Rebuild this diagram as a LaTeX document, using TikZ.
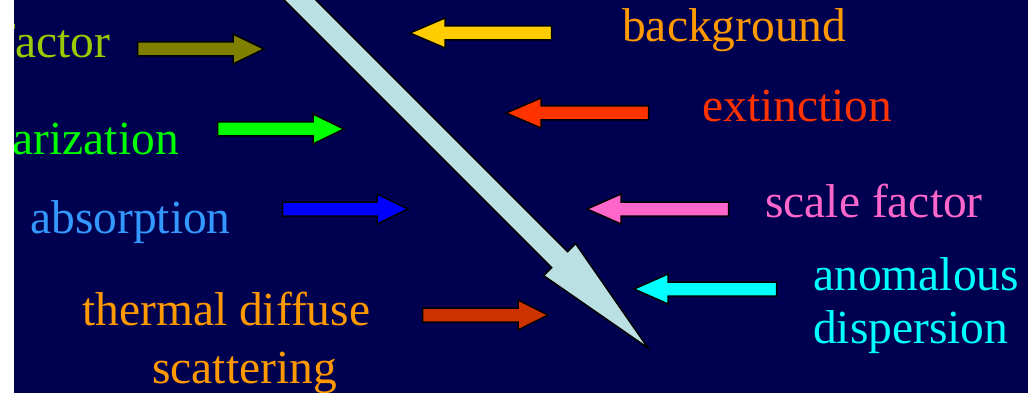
\documentclass[tikz,border=0pt]{standalone}
\usepackage{fontspec}
\setmainfont{Liberation Serif}
\definecolor{slnavy}{RGB}{0,0,80}
\definecolor{slbeam}{RGB}{187,224,227}
\definecolor{sllime}{RGB}{153,204,0}
\definecolor{slolive}{RGB}{128,128,0}
\definecolor{slgreen}{RGB}{0,255,0}
\definecolor{slsky}{RGB}{51,153,255}
\definecolor{slblue}{RGB}{0,0,255}
\definecolor{slorange}{RGB}{255,153,0}
\definecolor{slrust}{RGB}{204,51,0}
\definecolor{slyellow}{RGB}{255,204,0}
\definecolor{slred}{RGB}{255,51,0}
\definecolor{slpink}{RGB}{255,102,204}
\definecolor{slcyan}{RGB}{0,255,255}

\begin{document}
\begin{tikzpicture}[x=1pt, y=-1pt,
  blk/.style={draw=black, line width=1.5pt},
  lbl/.style={anchor=base west, inner sep=0pt, align=left,
              font=\fontsize{47.5}{53}\selectfont}
]
\useasboundingbox (0,0) rectangle (1028,393);
\fill[white] (0,0) rectangle (14,393);

\begin{scope}
\clip (14,0) rectangle (1028,393);
\fill[slnavy] (14,0) rectangle (1028,393);

% Main beam
\draw[blk, fill=slbeam] (278,-38) -- (567.6,251.6) -- (575.6,243.6) -- (648,348)
  -- (543.6,275.6) -- (551.6,267.6) -- (262,-22) -- cycle;

% Labels
\node[lbl, text=sllime]   (factor)  at (-1,58)    {factor};
\node[lbl, text=slgreen]  (polar)   at (12.5,154) {arization};
\node[lbl, text=slsky]    (absorb)  at (30,233)   {absorption};
\node[lbl, text=slorange] (thermal) at (82,325)   {thermal diffuse};
\node[lbl, text=slorange] (scatter) at (152,383)  {scattering};
\node[lbl, text=slorange] (backgr)  at (622,42)   {background};
\node[lbl, text=slred]    (extinct) at (702,122)  {extinction};
\node[lbl, text=slpink]   (scale)   at (765,217)  {scale factor};
\node[lbl, text=slcyan]   (anomal)  at (813,343)  {anomalous\\dispersion};

% Arrows from the left
\draw[blk, fill=slolive] (137.5,42) -- (233,42) -- (233,34) -- (264,49)
  -- (233,64) -- (233,56) -- (137.5,56) -- cycle;
\draw[blk, fill=slgreen] (217.5,122) -- (313,122) -- (313,114) -- (344,129)
  -- (313,144) -- (313,136) -- (217.5,136) -- cycle;
\draw[blk, fill=slblue] (282.5,202) -- (377,202) -- (377,194) -- (408,209)
  -- (377,224) -- (377,216) -- (282.5,216) -- cycle;
\draw[blk, fill=slrust] (422.5,308) -- (518,308) -- (518,300) -- (548,315)
  -- (518,330) -- (518,322) -- (422.5,322) -- cycle;

% Arrows from the right
\draw[blk, fill=slyellow] (551.5,26) -- (445,26) -- (445,18) -- (410,33)
  -- (445,48) -- (445,40) -- (551.5,40) -- cycle;
\draw[blk, fill=slred] (648.5,106) -- (541,106) -- (541,98) -- (506,113)
  -- (541,128) -- (541,120) -- (648.5,120) -- cycle;
\draw[blk, fill=slpink] (728.5,202) -- (621,202) -- (621,194) -- (587,209)
  -- (621,224) -- (621,216) -- (728.5,216) -- cycle;
\draw[blk, fill=slcyan] (776.5,282) -- (668,282) -- (668,274) -- (634,289)
  -- (668,304) -- (668,296) -- (776.5,296) -- cycle;
\end{scope}
\end{tikzpicture}
\end{document}
